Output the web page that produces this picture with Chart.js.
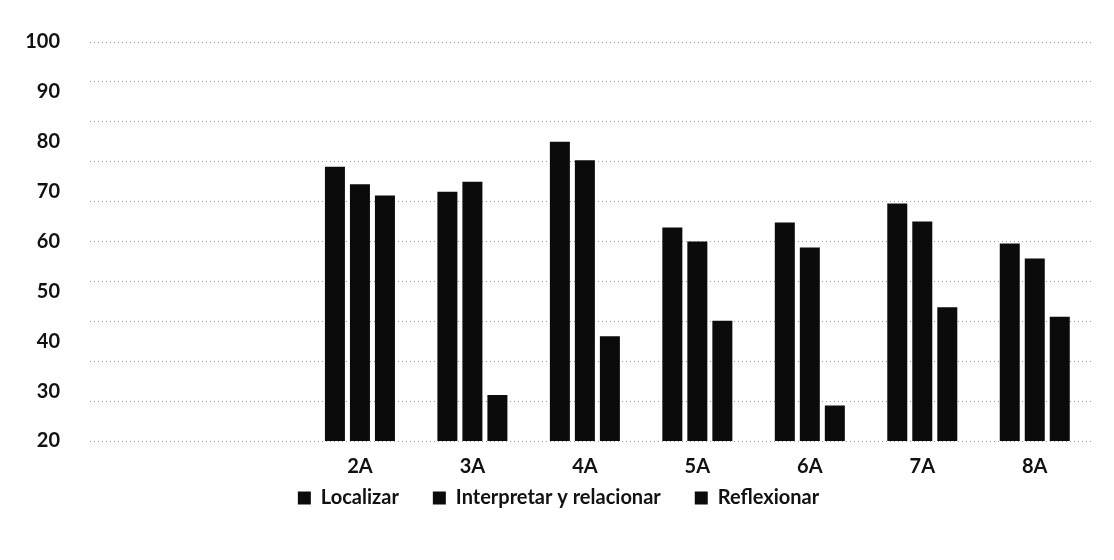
<!DOCTYPE html>
<html lang="es">
<head>
  <meta charset="UTF-8">
  <title>Localizar / Interpretar / Reflexionar</title>
  <script src="https://cdn.jsdelivr.net/npm/chart.js"></script>
  <style>
    body {
      margin: 0;
      background: #fff;
    }
    .wrap {
      width: 1114px;
      height: 560px;
      position: relative;
    }
  </style>
</head>
<body>
  <div class="wrap">
    <canvas id="chart"></canvas>
  </div>

  <script>
    // values
    const categories = ['2A', '3A', '4A', '5A', '6A', '7A', '8A'];
    const localizar = [75, 70, 80, 62.8, 63.8, 67.6, 59.6];
    const interpretar = [71.5, 72, 76.3, 60, 58.8, 64, 56.6];
    const reflexionar = [69.2, 29.2, 41, 44.1, 27.1, 46.8, 44.9];
    const yTicks = [20, 30, 40, 50, 60, 70, 80, 90, 100];

    const font = { family: 'Lato', size: 20, weight: 'bold' };
    const textColor = '#111';

    // bars sit on a numeric x axis so the empty left part of the plot is kept
    function points(values) {
      return values.map((v, i) => ({ x: i + 1, y: v }));
    }

    function dataset(label, values) {
      return {
        label: label,
        data: points(values),
        backgroundColor: '#0b0b0b',
        borderWidth: 0,
        categoryPercentage: 0.667,
        barPercentage: 0.8
      };
    }

    // legend sits closer to the axis labels than chart.js would place it
    const legendShift = {
      id: 'legendShift',
      afterLayout(chart) {
        chart.legend.top -= 39;
        chart.legend.bottom -= 39;
      }
    };

    new Chart(document.getElementById('chart'), {
      type: 'bar',
      data: {
        datasets: [
          dataset('Localizar', localizar),
          dataset('Interpretar y relacionar', interpretar),
          dataset('Reflexionar', reflexionar)
        ]
      },
      plugins: [legendShift],
      options: {
        responsive: true,
        maintainAspectRatio: false,
        animation: false,
        layout: {
          padding: { top: 38, left: 26, right: 23, bottom: 3 }
        },
        plugins: {
          tooltip: { enabled: false },
          legend: {
            position: 'bottom',
            labels: {
              font: font,
              color: textColor,
              boxWidth: 13,
              boxHeight: 13,
              padding: 34
            }
          }
        },
        scales: {
          x: {
            type: 'linear',
            min: -1.4,
            max: 7.5,
            offset: false,
            grid: { display: false, drawTicks: false },
            border: { display: false },
            afterBuildTicks: s => {
              s.ticks = categories.map((c, i) => ({ value: i + 1 }));
            },
            ticks: {
              autoSkip: false,
              maxRotation: 0,
              padding: 14,
              font: font,
              color: textColor,
              callback: v => categories[v - 1] || ''
            }
          },
          y: {
            min: 20,
            max: 100,
            grid: { display: false, drawTicks: false },
            border: { display: false },
            afterBuildTicks: s => {
              s.ticks = yTicks.map(v => ({ value: v }));
            },
            afterFit: s => { s.width = 64; },
            ticks: {
              padding: 30,
              font: font,
              color: textColor
            }
          },
          // the scan's dotted grid does not line up with the labels: 10 even steps
          grid: {
            position: 'right',
            min: 20,
            max: 100,
            border: { display: false, dash: [1, 3] },
            grid: {
              color: '#9a9a9a',
              lineWidth: 1,
              drawTicks: false
            },
            ticks: { display: false, stepSize: 8 }
          }
        }
      }
    });
  </script>
</body>
</html>
